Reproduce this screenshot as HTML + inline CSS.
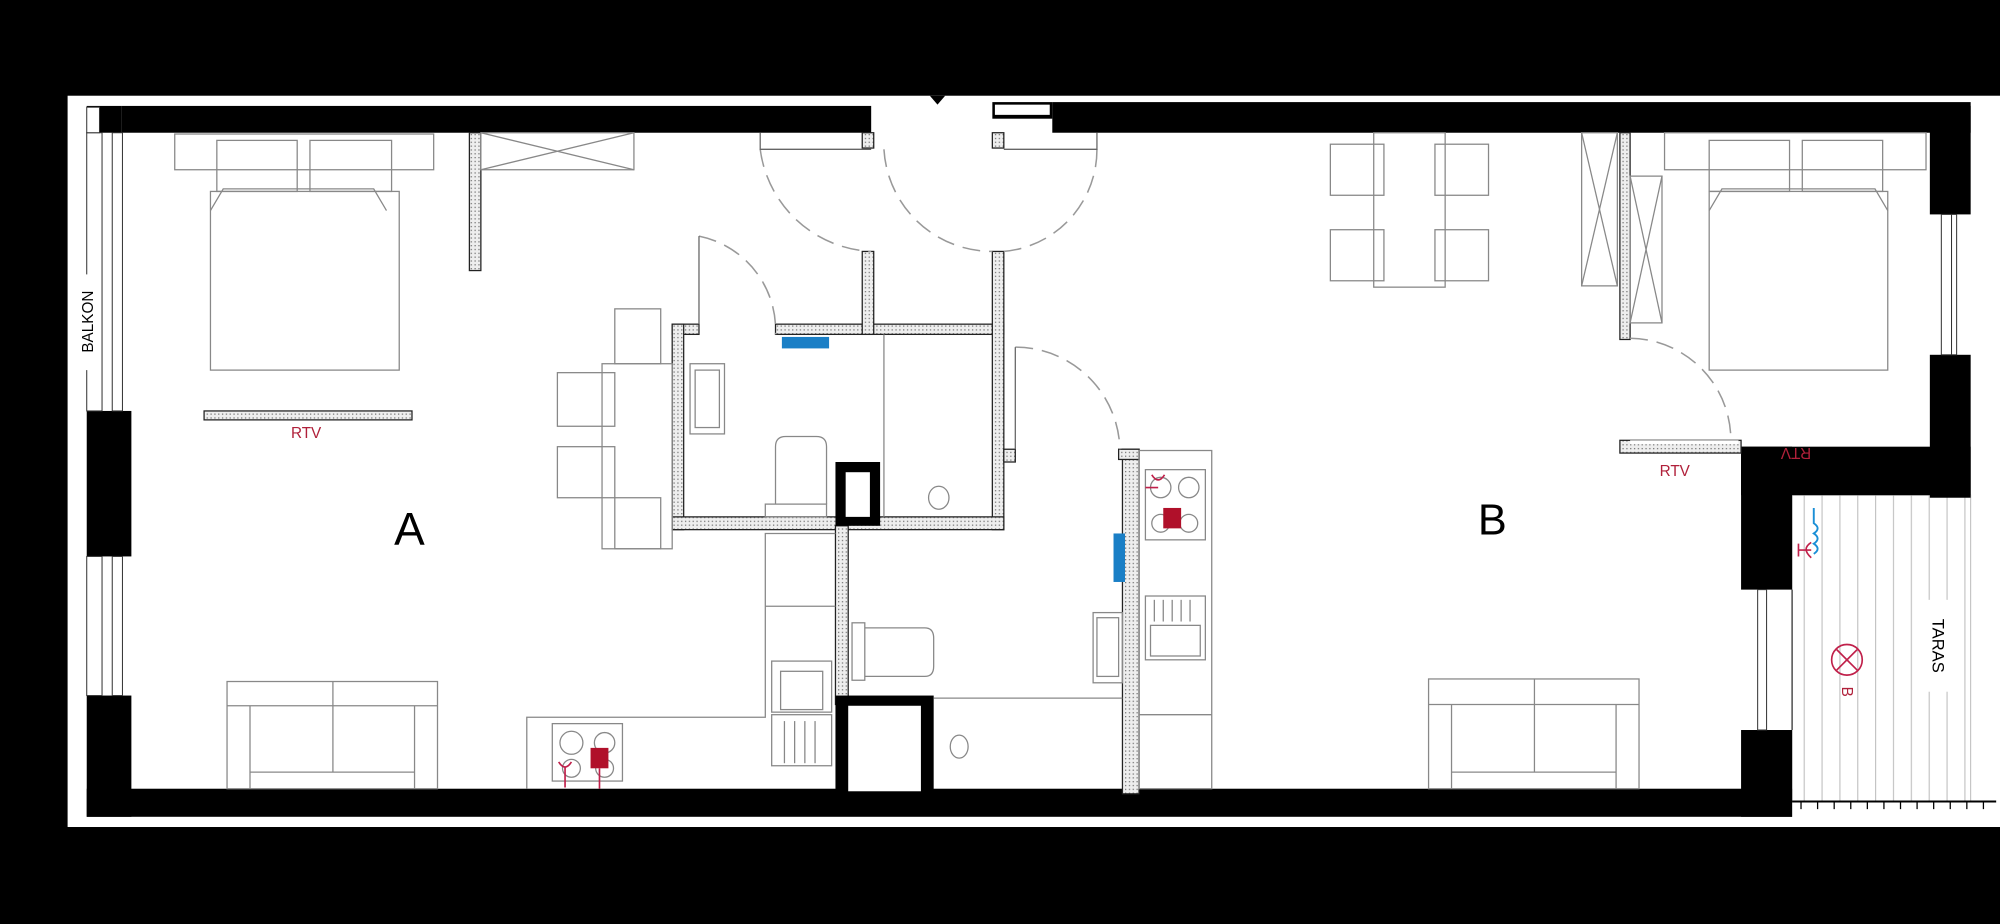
<!DOCTYPE html>
<html><head><meta charset="utf-8"><style>
html,body{margin:0;padding:0;background:#000;}
svg{display:block;}
text{font-family:"Liberation Sans",sans-serif;}
</style></head><body>
<svg width="2000" height="924" viewBox="0 0 1568 724" preserveAspectRatio="none" xmlns="http://www.w3.org/2000/svg">
<defs>
<pattern id="dots" width="3" height="3" patternUnits="userSpaceOnUse"><rect width="3" height="3" fill="#eee"/><rect width="1" height="1" fill="#777"/></pattern>
<pattern id="deck" width="14" height="10" patternUnits="userSpaceOnUse"><rect width="14" height="10" fill="#fff"/><line x1="0.5" y1="0" x2="0.5" y2="10" stroke="#bbb" stroke-width="0.8"/></pattern>
</defs>
<rect x="0" y="0" width="1568" height="724" fill="#000"/>
<rect x="53" y="75" width="1515" height="573" fill="#fff"/>
<polygon points="729,75 741,75 735,82" fill="#000"/>
<rect x="1405" y="388" width="140" height="240" fill="url(#deck)"/>
<rect x="1405" y="388" width="140" height="240" fill="none" stroke="#bbb" stroke-width="0.8"/>
<line x1="1405" y1="628" x2="1565" y2="628" stroke="#000" stroke-width="1.5"/>
<g stroke="#000" stroke-width="1">
<line x1="1412" y1="628" x2="1412" y2="634"/><line x1="1425" y1="628" x2="1425" y2="634"/><line x1="1438" y1="628" x2="1438" y2="634"/><line x1="1451" y1="628" x2="1451" y2="634"/><line x1="1464" y1="628" x2="1464" y2="634"/><line x1="1477" y1="628" x2="1477" y2="634"/><line x1="1490" y1="628" x2="1490" y2="634"/><line x1="1503" y1="628" x2="1503" y2="634"/><line x1="1516" y1="628" x2="1516" y2="634"/><line x1="1529" y1="628" x2="1529" y2="634"/><line x1="1542" y1="628" x2="1542" y2="634"/><line x1="1555" y1="628" x2="1555" y2="634"/>
</g>
<g fill="#000">
<rect x="95" y="83" width="588" height="21"/>
<rect x="778" y="80" width="47" height="13"/>
<rect x="825" y="80" width="720" height="24"/>
<rect x="68" y="83" width="27" height="21"/>
<rect x="68" y="322" width="35" height="114"/>
<rect x="68" y="545" width="35" height="95"/>
<rect x="68" y="618" width="1337" height="22"/>
<rect x="1513" y="83" width="32" height="85"/>
<rect x="1513" y="278" width="32" height="112"/>
<rect x="1365" y="350" width="180" height="38"/>
<rect x="1365" y="350" width="40" height="112"/>
<rect x="1365" y="572" width="40" height="68"/>
</g>
<rect x="780" y="82" width="43" height="8" fill="#fff"/>
<g fill="#fff" stroke="#333" stroke-width="0.8">
<rect x="68" y="104" width="12" height="218"/><rect x="88" y="104" width="8" height="218"/>
<rect x="68" y="436" width="12" height="109"/><rect x="88" y="436" width="8" height="109"/>
<rect x="1522" y="168" width="8" height="110"/><rect x="1530" y="168" width="4" height="110"/>
<rect x="1378" y="462" width="7" height="110"/>
<rect x="68" y="84" width="10" height="20"/>
</g>
<line x1="1405" y1="462" x2="1405" y2="572" stroke="#333" stroke-width="1"/>
<g fill="url(#dots)" stroke="#222" stroke-width="1">
<rect x="368" y="104" width="9" height="108"/>
<rect x="160" y="322" width="163" height="7"/>
<rect x="527" y="254" width="21" height="8"/>
<rect x="527" y="254" width="9" height="161"/>
<rect x="608" y="254" width="179" height="8"/>
<rect x="676" y="197" width="9" height="65"/>
<rect x="778" y="197" width="9" height="218"/>
<rect x="778" y="104" width="9" height="12"/>
<rect x="676" y="104" width="9" height="12"/>
<rect x="787" y="352" width="9" height="10"/>
<rect x="527" y="405" width="260" height="10"/>
<rect x="655" y="412" width="10" height="140"/>
<rect x="880" y="352" width="13" height="270"/>
<rect x="877" y="352" width="16" height="8"/>
<rect x="1270" y="104" width="8" height="162"/>
<rect x="1270" y="345" width="95" height="10"/>
</g>
<rect x="1278" y="345" width="85" height="3" fill="#fff"/>
<rect x="655" y="362" width="35" height="50" fill="#000"/>
<rect x="663" y="370" width="19" height="35" fill="#fff"/>
<rect x="655" y="545" width="77" height="75" fill="#000"/>
<rect x="665" y="553" width="57" height="67" fill="#fff"/>
<g fill="none" stroke="#888" stroke-width="1">
<rect x="137" y="105" width="203" height="28"/>
<rect x="170" y="110" width="63" height="40"/><rect x="243" y="110" width="64" height="40"/>
<rect x="165" y="150" width="148" height="140"/>
<polyline points="165,165 175,148 293,148 303,165"/>
<rect x="377" y="104" width="120" height="29"/>
<line x1="377" y1="104" x2="497" y2="133"/><line x1="377" y1="133" x2="497" y2="104"/>
<rect x="472" y="285" width="55" height="145"/>
<rect x="482" y="242" width="36" height="43"/>
<rect x="437" y="292" width="45" height="42"/><rect x="437" y="350" width="45" height="40"/>
<rect x="482" y="390" width="36" height="40"/>
<rect x="178" y="534" width="165" height="84"/>
<line x1="178" y1="553" x2="343" y2="553"/><line x1="196" y1="553" x2="196" y2="618"/><line x1="325" y1="553" x2="325" y2="618"/><line x1="261" y1="534" x2="261" y2="605"/><line x1="196" y1="605" x2="325" y2="605"/>
<polyline points="413,618 413,562 600,562 600,418 655,418"/>
<line x1="600" y1="475" x2="655" y2="475"/>
<rect x="605" y="518" width="47" height="40"/><rect x="612" y="526" width="33" height="30"/>
<rect x="605" y="560" width="47" height="40"/>
<line x1="615" y1="565" x2="615" y2="598"/><line x1="623" y1="565" x2="623" y2="598"/><line x1="631" y1="565" x2="631" y2="598"/><line x1="639" y1="565" x2="639" y2="598"/>
<rect x="433" y="567" width="55" height="45"/>
<circle cx="448" cy="582" r="9"/><circle cx="474" cy="582" r="8"/><circle cx="448" cy="602" r="7"/><circle cx="474" cy="602" r="7"/>
<rect x="541" y="285" width="27" height="55"/><rect x="545" y="290" width="19" height="45"/>
<line x1="693" y1="262" x2="693" y2="405"/>
<path d="M608,395 L608,350 Q608,342 616,342 L640,342 Q648,342 648,350 L648,395"/>
<rect x="600" y="395" width="48" height="10"/>
<ellipse cx="736" cy="390" rx="8" ry="9"/>
<rect x="668" y="488" width="10" height="45"/>
<path d="M678,492 L725,492 Q732,492 732,500 L732,522 Q732,530 725,530 L678,530"/>
<rect x="857" y="480" width="23" height="55"/><rect x="860" y="484" width="17" height="46"/>
<line x1="732" y1="547" x2="880" y2="547"/>
<ellipse cx="752" cy="585" rx="7" ry="9"/>
<rect x="893" y="353" width="57" height="265"/>
<rect x="898" y="368" width="47" height="55"/>
<circle cx="910" cy="382" r="8"/><circle cx="932" cy="382" r="8"/><circle cx="910" cy="410" r="7"/><circle cx="932" cy="410" r="7"/>
<rect x="898" y="467" width="47" height="50"/><rect x="902" y="490" width="39" height="24"/>
<line x1="905" y1="470" x2="905" y2="487"/><line x1="912" y1="470" x2="912" y2="487"/><line x1="919" y1="470" x2="919" y2="487"/><line x1="926" y1="470" x2="926" y2="487"/><line x1="933" y1="470" x2="933" y2="487"/>
<line x1="893" y1="560" x2="950" y2="560"/>
<rect x="1077" y="104" width="56" height="121"/>
<rect x="1043" y="113" width="42" height="40"/><rect x="1043" y="180" width="42" height="40"/>
<rect x="1125" y="113" width="42" height="40"/><rect x="1125" y="180" width="42" height="40"/>
<rect x="1240" y="104" width="28" height="120"/>
<line x1="1240" y1="104" x2="1268" y2="224"/><line x1="1268" y1="104" x2="1240" y2="224"/>
<rect x="1278" y="138" width="25" height="115"/>
<line x1="1278" y1="138" x2="1303" y2="253"/><line x1="1303" y1="138" x2="1278" y2="253"/>
<rect x="1305" y="104" width="205" height="29"/>
<rect x="1340" y="110" width="63" height="40"/><rect x="1413" y="110" width="63" height="40"/>
<rect x="1340" y="150" width="140" height="140"/>
<polyline points="1340,165 1350,148 1470,148 1480,165"/>
<rect x="1120" y="532" width="165" height="86"/>
<line x1="1120" y1="552" x2="1285" y2="552"/><line x1="1138" y1="552" x2="1138" y2="618"/><line x1="1267" y1="552" x2="1267" y2="618"/><line x1="1203" y1="532" x2="1203" y2="605"/><line x1="1138" y1="605" x2="1267" y2="605"/>
</g>
<g fill="none" stroke="#999" stroke-width="1.2" stroke-dasharray="14,7">
<path d="M596,117 A92,92 0 0 0 683,197"/>
<path d="M693,117 A85,85 0 0 0 778,197"/>
<path d="M860,117 A80,80 0 0 1 787,197"/>
<path d="M548,185 A75,75 0 0 1 608,262"/>
<path d="M796,272 A82,82 0 0 1 878,352"/>
<path d="M1278,265 A80,80 0 0 1 1357,345"/>
</g>
<g fill="none" stroke="#666" stroke-width="1">
<polyline points="596,104 596,117 683,117"/>
<polyline points="548,254 548,185"/>
<polyline points="787,117 860,117 860,104"/>
<polyline points="796,352 796,272"/>
</g>
<rect x="613" y="264" width="37" height="9" fill="#1a7fc6"/>
<rect x="873" y="418" width="9" height="38" fill="#1a7fc6"/>
<rect x="463" y="586" width="14" height="16" fill="#b0102a"/>
<rect x="912" y="398" width="14" height="16" fill="#b0102a"/>
<g fill="none" stroke="#c0204a" stroke-width="1.3">
<path d="M438,597 q5,8 10,0 M443,601 v16"/><path d="M470,602 v16"/>
<path d="M903,372 q5,8 10,0 M898,382 h10"/>
<path d="M1420,425 q-8,5 0,12 M1410,431 h10 M1410,426 v10"/>
<circle cx="1448" cy="517" r="12"/><line x1="1440" y1="509" x2="1456" y2="525"/><line x1="1456" y1="509" x2="1440" y2="525"/>
</g>
<path d="M1422,398 v12 q6,4 0,8 q6,4 0,8 q6,4 0,8" fill="none" stroke="#1a8fd6" stroke-width="1.5"/>
<text x="240" y="343" font-size="12" fill="#b0203a" text-anchor="middle">RTV</text>
<text x="1313" y="373" font-size="12" fill="#b0203a" text-anchor="middle">RTV</text>
<text x="1408" y="343" font-size="12" fill="#b0203a" text-anchor="middle" transform="rotate(180 1408 347)">RTV</text>
<text x="321" y="427" font-size="36" fill="#000" text-anchor="middle">A</text>
<text x="1170" y="419" font-size="34" fill="#000" text-anchor="middle">B</text>
<rect x="60" y="215" width="18" height="75" fill="#fff"/>
<text x="73" y="252" font-size="12" fill="#000" text-anchor="middle" transform="rotate(-90 73 252)">BALKON</text>
<rect x="1508" y="470" width="22" height="72" fill="#fff"/>
<text x="1515" y="506" font-size="13" fill="#000" text-anchor="middle" transform="rotate(90 1515 506)">TARAS</text>
<text x="1448" y="546" font-size="12" fill="#b0203a" text-anchor="middle" transform="rotate(90 1448 542)">B</text>
</svg>
</body></html>
